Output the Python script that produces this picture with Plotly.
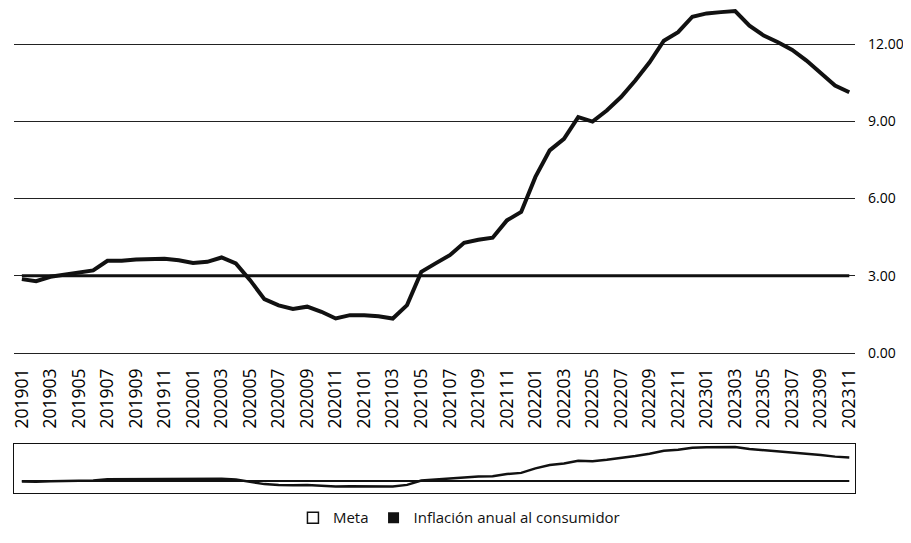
import plotly.graph_objects as go

meses = [
    "201901", "201902", "201903", "201904", "201905", "201906", "201907", "201908", "201909", "201910", "201911", "201912",
    "202001", "202002", "202003", "202004", "202005", "202006", "202007", "202008", "202009", "202010", "202011", "202012",
    "202101", "202102", "202103", "202104", "202105", "202106", "202107", "202108", "202109", "202110", "202111", "202112",
    "202201", "202202", "202203", "202204", "202205", "202206", "202207", "202208", "202209", "202210", "202211", "202212",
    "202301", "202302", "202303", "202304", "202305", "202306", "202307", "202308", "202309", "202310", "202311",
]

# inflacion anual
inflacion = [
    2.87, 2.79, 2.96, 3.05, 3.11, 3.21, 3.58, 3.58, 3.63, 3.66, 3.66, 3.60,
    3.50, 3.54, 3.71, 3.48, 2.83, 2.09, 1.85, 1.71, 1.80, 1.60, 1.34, 1.47,
    1.47, 1.43, 1.34, 1.86, 3.15, 3.48, 3.80, 4.28, 4.40, 4.48, 5.15, 5.48,
    6.84, 7.87, 8.32, 9.16, 8.99, 9.42, 9.94, 10.58, 11.29, 12.13, 12.46, 13.06,
    13.19, 13.24, 13.28, 12.71, 12.33, 12.07, 11.77, 11.36, 10.90, 10.39, 10.13,
]

meta = [3.0] * len(meses)

ticks_x = meses[::2]
ticks_y = [0, 3, 6, 9, 12]
ticks_y_txt = ["0.00", "3.00", "6.00", "9.00", "12.00"]

fuente = "Open Sans"
negro = "#111111"
rango_x = [-0.55, 58.4]

fig = go.Figure()
# grafico principal
fig.add_trace(go.Scatter(x=meses, y=meta, mode="lines", name="Meta",
                         line=dict(color=negro, width=3), showlegend=False))
fig.add_trace(go.Scatter(x=meses, y=inflacion, mode="lines", name="Inflación anual al consumidor",
                         line=dict(color=negro, width=4), showlegend=False))

# vista reducida abajo (como un range slider)
fig.add_trace(go.Scatter(x=meses, y=meta, mode="lines", xaxis="x2", yaxis="y2",
                         line=dict(color=negro, width=2), showlegend=False, hoverinfo="skip"))
fig.add_trace(go.Scatter(x=meses, y=inflacion, mode="lines", xaxis="x2", yaxis="y2",
                         line=dict(color=negro, width=2.5), showlegend=False, hoverinfo="skip"))

# entradas de leyenda con cuadrados
fig.add_trace(go.Scatter(x=[None], y=[None], mode="markers", name="Meta",
                         marker=dict(symbol="square-open", size=11, color=negro,
                                     line=dict(width=1.5, color=negro))))
fig.add_trace(go.Scatter(x=[None], y=[None], mode="markers", name="Inflación anual al consumidor",
                         marker=dict(symbol="square", size=11, color=negro)))

# la pagina deja 8px de margen en el body, se compensa aqui
fig.update_layout(
    width=911, height=543,
    margin=dict(l=6, r=64, t=0, b=50),
    plot_bgcolor="white", paper_bgcolor="white",
    font=dict(family=fuente, color=negro),
    legend=dict(orientation="h", x=0.495, xanchor="center", xref="container",
                y=0.061, yanchor="middle", yref="container",
                font=dict(size=15), itemwidth=30, tracegroupgap=0),
    xaxis=dict(
        type="category", categoryorder="array", categoryarray=meses,
        tickmode="array", tickvals=ticks_x, ticktext=ticks_x,
        tickangle=-90, tickfont=dict(size=17.5, color="#000000"), showgrid=False,
        ticklabelstandoff=11, automargin=False, range=rango_x, anchor="y",
    ),
    yaxis=dict(
        domain=[0.3002, 1], side="right", range=[0, 13.4], automargin=False,
        tickmode="array", tickvals=ticks_y, ticktext=ticks_y_txt,
        tickfont=dict(size=14, color="#000000"), ticklabelstandoff=12,
        showgrid=True, gridcolor="#222222", gridwidth=1,
        zeroline=True, zerolinecolor="#222222", zerolinewidth=1,
    ),
    xaxis2=dict(
        type="category", categoryorder="array", categoryarray=meses,
        range=rango_x, anchor="y2", showticklabels=False, ticks="",
        showgrid=False, showline=True, mirror=True, linecolor=negro, linewidth=1,
        automargin=False, fixedrange=True,
    ),
    yaxis2=dict(
        domain=[0.0162, 0.1156], range=[-0.6, 14.2], anchor="x2",
        showticklabels=False, ticks="", showgrid=False, zeroline=False,
        showline=True, mirror=True, linecolor=negro, linewidth=1,
        automargin=False, fixedrange=True,
    ),
)

fig.write_html("out.html")
